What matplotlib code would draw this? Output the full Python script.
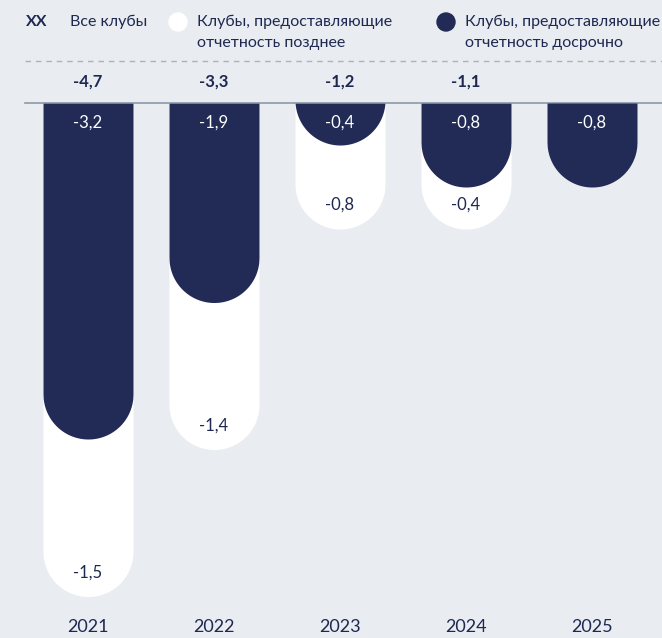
import numpy as np
import matplotlib
matplotlib.use("Agg")
import matplotlib.pyplot as plt

plt.rcParams['font.family'] = ['Lato', 'DejaVu Sans']

years = ['2021', '2022', '2023', '2024', '2025']
early = [-3.2, -1.9, -0.4, -0.8, -0.8]   # clubs reporting ahead of schedule
late = [-1.5, -1.4, -0.8, -0.4, 0.0]     # clubs reporting later
totals = [-4.7, -3.3, -1.2, -1.1, None]  # all clubs

bg = '#e9edf1'
navy = '#212b55'
text_c = '#1e2850'

W, H = 662, 638
fig = plt.figure(figsize=(W / 100, H / 100), dpi=100, facecolor=bg)
ax = fig.add_axes([0, 0, 1, 1])
ax.set_facecolor(bg)
ax.axis('off')

px_y = 105.0   # pixels per unit of value
px_x = 126.0   # pixels per category step
ax.set_ylim(-(H - 103) / px_y, 103 / px_y)
ax.set_xlim(-88 / px_x, (W - 88) / px_x)

hw = 45 / px_x          # half bar width in x units
ry = 45 / px_y          # radius of rounded bottom in y units


def rounded_bar(xc, bottom, color):
    x = np.linspace(xc - hw, xc + hw, 400)
    u = (x - xc) / hw
    yb = bottom + ry * (1 - np.sqrt(np.clip(1 - u ** 2, 0, 1)))
    ax.fill_between(x, 0, np.minimum(yb, 0), color=color, lw=0, zorder=2)


def fmt(v):
    return f'{v:.1f}'.replace('.', ',')


xs = np.arange(len(years))
for i in xs:
    tot = early[i] + late[i]
    if late[i] != 0:
        rounded_bar(i, tot, 'white')
    rounded_bar(i, early[i], navy)
    ax.text(i, -20 / px_y, fmt(early[i]), color='white',
            ha='center', va='center', fontsize=12, zorder=3)
    if late[i] != 0:
        ax.text(i, tot + 24 / px_y, fmt(late[i]), color=text_c,
                ha='center', va='center', fontsize=12, zorder=3)
    if totals[i] is not None:
        ax.text(i, 21 / px_y, fmt(totals[i]), color=text_c,
                ha='center', va='center', fontsize=12, fontweight='bold', zorder=3)
    ax.text(i, -(627 - 103) / px_y, years[i], color=text_c,
            ha='center', va='center', fontsize=13, zorder=3)

# zero line and dashed separator
ax.plot([-63 / px_x, (W - 88) / px_x], [0, 0], color='#8e99a6', lw=1.2, zorder=1)
ax.plot([-63 / px_x, (W - 88) / px_x], [42 / px_y, 42 / px_y], color='#a9b3bd',
        lw=1, ls=(0, (4, 3.5)), zorder=1)


# legend, placed in pixel terms of the figure
def fx(p):
    return p / W


def fy(p):
    return 1 - p / H


fs = 11.5
fig.text(fx(26), fy(22), 'XX', color=text_c, fontsize=fs, fontweight='bold', va='center')
fig.text(fx(70), fy(22), 'Все клубы', color=text_c, fontsize=fs, va='center')
fig.add_artist(matplotlib.patches.Ellipse((fx(178), fy(22)), 18 / W, 18 / H,
                                          transform=fig.transFigure, color='white'))
fig.text(fx(197), fy(22), 'Клубы, предоставляющие', color=text_c, fontsize=fs, va='center')
fig.text(fx(197), fy(43), 'отчетность позднее', color=text_c, fontsize=fs, va='center')
fig.add_artist(matplotlib.patches.Ellipse((fx(446), fy(22)), 18 / W, 18 / H,
                                          transform=fig.transFigure, color=navy))
fig.text(fx(465), fy(22), 'Клубы, предоставляющие', color=text_c, fontsize=fs, va='center')
fig.text(fx(465), fy(43), 'отчетность досрочно', color=text_c, fontsize=fs, va='center')

fig.savefig('out.png', dpi=100, facecolor=bg)
